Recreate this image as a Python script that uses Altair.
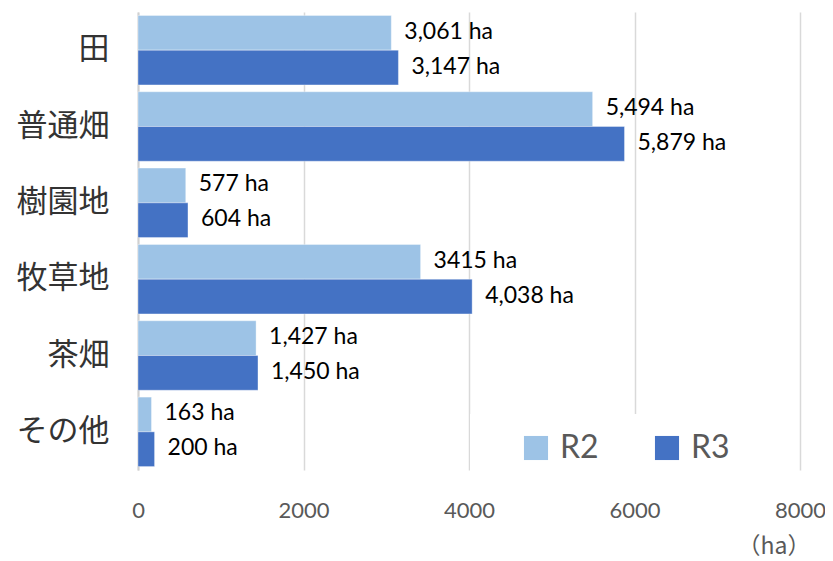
import altair as alt
import pandas as pd

categories = ["田", "普通畑", "樹園地", "牧草地", "茶畑", "その他"]
series_names = ["R2", "R3"]
r2_values = [3061, 5494, 577, 3415, 1427, 163]
r3_values = [3147, 5879, 604, 4038, 1450, 200]
r2_labels = ["3,061 ha", "5,494 ha", "577 ha", "3415 ha", "1,427 ha", "163 ha"]
r3_labels = ["3,147 ha", "5,879 ha", "604 ha", "4,038 ha", "1,450 ha", "200 ha"]
x_ticks = [0, 2000, 4000, 6000, 8000]

rows = []
for c, v, l in zip(categories, r2_values, r2_labels):
    rows.append({"cat": c, "series": "R2", "value": v, "label": l})
for c, v, l in zip(categories, r3_values, r3_labels):
    rows.append({"cat": c, "series": "R3", "value": v, "label": l})
df = pd.DataFrame(rows)

y_enc = alt.Y("cat:N", sort=categories,
              scale=alt.Scale(paddingInner=0.09, paddingOuter=0.045),
              axis=alt.Axis(title=None, labelFont="Noto Sans CJK JP", labelFontSize=31,
                            labelColor="#333333", labelPadding=29, ticks=False,
                            domainColor="#d0d0d0", domainWidth=2))
x_enc = alt.X("value:Q", scale=alt.Scale(domain=[0, 8000], nice=False),
              axis=alt.Axis(values=x_ticks, format="d", title="（ha）", titleFont="Noto Sans CJK JP",
                            titleFontSize=23, titleFontWeight="normal", titleColor="#595959",
                            titleAnchor="end", titleAlign="right", titleBaseline="middle",
                            titleX=672, titleY=76,
                            labelFont="Lato", labelFontSize=22, labelColor="#595959",
                            labelFlush=False, labelPadding=30, ticks=False, domain=False,
                            grid=True, gridColor="#d9d9d9", gridWidth=1.5))

color_enc = alt.Color("series:N", scale=alt.Scale(domain=series_names, range=["#9DC3E6", "#4472C4"]),
                      legend=alt.Legend(title=None, orient="none", direction="horizontal",
                                        legendX=332, legendY=402, fillColor="white",
                                        padding=18, symbolType="square", symbolSize=580,
                                        symbolStrokeWidth=0, labelFont="Lato", labelFontSize=32,
                                        labelColor="#595959", columnPadding=20, labelOffset=8,
                                        symbolOffset=32))

bars = alt.Chart(df).mark_bar(stroke="#ffffff", strokeWidth=0.6, strokeOpacity=0.6).encode(
    y=y_enc,
    yOffset=alt.YOffset("series:N", sort=series_names),
    x=x_enc,
    color=color_enc,
)

texts = alt.Chart(df).mark_text(align="left", baseline="middle", dx=13, dy=-1, font="Lato",
                                 fontSize=23, color="#000000").encode(
    y=alt.Y("cat:N", sort=categories),
    yOffset=alt.YOffset("series:N", sort=series_names),
    x=alt.X("value:Q"),
    text="label:N",
)

chart = alt.layer(bars, texts).properties(
    width=662, height=458,
    autosize=alt.AutoSizeParams(type="none"),
    padding={"left": 130, "top": 4, "right": 25, "bottom": 89},
).configure(background="white").configure_view(stroke=None)

chart.save("out.html", embed_options={"renderer": "svg", "actions": False})
